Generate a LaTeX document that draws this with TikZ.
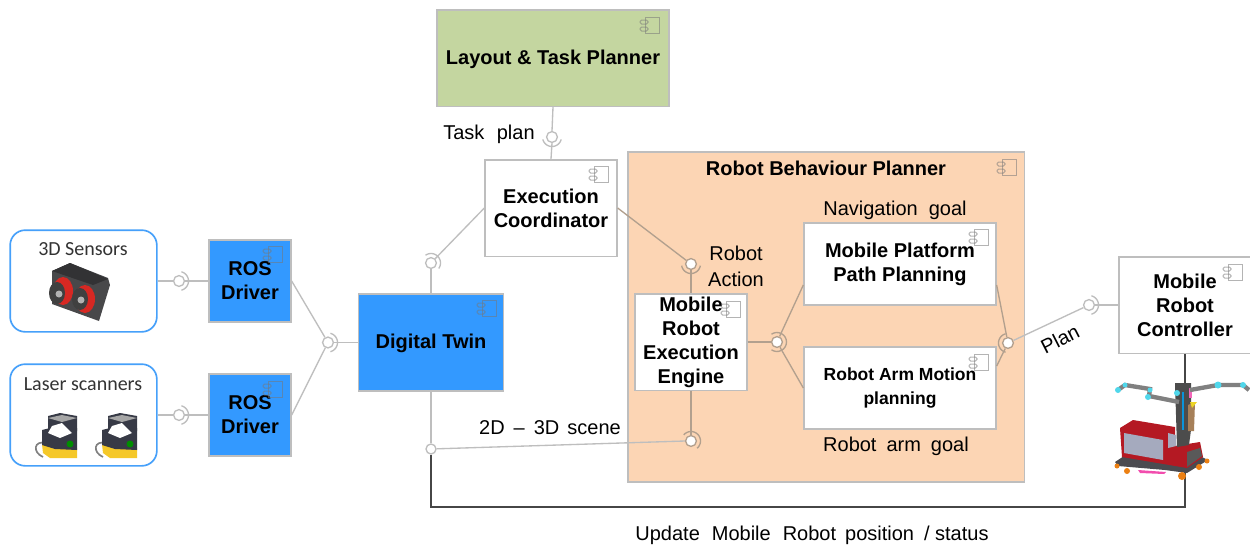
\documentclass[tikz,border=0pt]{standalone}
\usepackage{fontspec}
\setmainfont{Liberation Sans}
\newfontfamily\calib{Carlito}
\definecolor{lineg}{RGB}{190,190,190}
\definecolor{linep}{RGB}{178,160,142}
\definecolor{boxg}{RGB}{190,190,190}
\definecolor{blueb}{RGB}{51,153,255}
\definecolor{greenb}{RGB}{196,214,160}
\definecolor{peach}{RGB}{252,213,180}
\definecolor{roundb}{RGB}{70,160,250}
\definecolor{darkl}{RGB}{70,70,70}
\definecolor{iconc}{RGB}{120,120,120}
\definecolor{camd}{RGB}{72,72,74}
\definecolor{camt}{RGB}{50,50,52}
\definecolor{camr}{RGB}{215,40,35}
\definecolor{lasd}{RGB}{55,58,70}
\definecolor{lasy}{RGB}{245,200,40}
\definecolor{robr}{RGB}{180,25,35}
\definecolor{robg}{RGB}{165,170,190}
\definecolor{robc}{RGB}{80,215,235}
\definecolor{robk}{RGB}{75,75,80}
\tikzset{
  x=0.6pt,y=-0.6pt,
  comp/.style={draw=boxg,line width=1pt,fill=white,align=center,font=\fontsize{12pt}{14.4pt}\selectfont\bfseries,inner sep=0pt,execute at begin node={\rule{0pt}{10.2pt}}},
  bluecomp/.style={comp,fill=blueb},
  lab/.style={font=\fontsize{12pt}{14.4pt}\selectfont,inner sep=0pt},
  wire/.style={draw=lineg,line width=0.8pt},
  wirep/.style={draw=linep,line width=0.8pt},
  sens/.style={draw=roundb,line width=1pt,rounded corners=9pt,fill=white},
  cal/.style={font=\calib\fontsize{12pt}{14pt}\selectfont,inner sep=0pt,text=black!80},
  ball/.style={circle,line width=0.8pt,fill=white,minimum size=6.5pt,inner sep=0pt},
}
\newcommand{\compicon}[2]{%
  \draw[iconc,opacity=0.55,line width=0.6pt] (#1-6,#2-8) rectangle (#1+8,#2+8);
  \draw[iconc,opacity=0.55,line width=0.6pt,rounded corners=1pt] (#1-11,#2-5) rectangle (#1-3,#2-1);
  \draw[iconc,opacity=0.55,line width=0.6pt,rounded corners=1pt] (#1-11,#2+2) rectangle (#1-3,#2+6);
}
% name, x, y, direction of the arc, half span, ball and arc colour
\newcommand{\lolli}[6]{%
  \node[ball,draw=#6] (#1) at (#2,#3) {};
  \draw[#6,line width=0.8pt] plot[smooth,domain={#4-#5}:{#4+#5},samples=17,variable=\t] ({#2+9.5*cos(\t)},{#3-9.5*sin(\t)});
}
\newcommand{\laser}[1]{%
  \begin{scope}[shift={(#1,0)}]
  \draw[gray,line width=1pt] (46,443) .. controls (34,440) and (32,452) .. (43,457);
  \fill[lasy] (42,444) -- (77,448) -- (77,458) -- (50,458) -- (43,453) -- cycle;
  \fill[lasd] (42,430) -- (50,428) -- (77,428) -- (77,450) -- (55,449) -- (42,445) -- cycle;
  \fill[lasd] (48,416) -- (60,413) -- (77,416) -- (77,431) -- (48,431) -- cycle;
  \fill[gray!70] (48,418) -- (62,415) -- (77,418) -- (62,422) -- cycle;
  \fill[white] (52,426) -- (62,423) -- (72,433) -- (60,438) -- (48,433) -- cycle;
  \fill[green!55!black] (70,444) circle[radius=3.5];
  \end{scope}
}
\begin{document}
\begin{tikzpicture}
\useasboundingbox (0,0) rectangle (1250,547);
\fill[white] (0,0) rectangle (1250,547);

% containers
\node[draw=boxg,line width=1pt,fill=peach,minimum width=238pt,minimum height=198pt,inner sep=0pt] (rbp) at (826,317) {};
\node[font=\fontsize{12pt}{14.4pt}\selectfont\bfseries,inner sep=0pt] (rbpt) at (826,168) {Robot Behaviour Planner};

% boxes
\node[comp,fill=greenb,minimum width=139pt,minimum height=58pt] (ltp) at (553,58) {Layout \& Task Planner};
\node[comp,minimum width=79pt,minimum height=58pt] (ec) at (551,208) {Execution\\Coordinator};
\node[bluecomp,minimum width=49pt,minimum height=49pt] (ros1) at (250,281) {ROS\\Driver};
\node[bluecomp,minimum width=49pt,minimum height=49pt] (ros2) at (250,415) {ROS\\Driver};
\node[bluecomp,minimum width=87pt,minimum height=58pt] (dt) at (431,342.5) {Digital Twin};
\node[comp,minimum width=67pt,minimum height=58pt] (eng) at (691,342) {Mobile\\Robot\\Execution\\Engine};
\node[comp,minimum width=115pt,minimum height=49pt] (mp) at (900,264) {Mobile Platform\\Path Planning};
\node[comp,minimum width=115pt,minimum height=49pt,font=\fontsize{10.5pt}{14.4pt}\selectfont\bfseries] (arm) at (900,388) {Robot Arm Motion\\planning};
\node[comp,minimum width=79pt,minimum height=58pt] (mrc) at (1185,305) {Mobile\\Robot\\Controller};
\node[sens,minimum width=88pt,minimum height=61pt,inner sep=0pt] (s3d) at (83.5,281) {};
\node[sens,minimum width=88pt,minimum height=61pt,inner sep=0pt] (slas) at (83.5,415) {};
\node[cal] (t3d) at (83,249) {3D Sensors};
\node[cal] (tlas) at (83,384) {Laser scanners};

% icons
\compicon{651}{25}
\compicon{600}{174}
\compicon{1008}{167}
\compicon{274}{254}
\compicon{274}{389}
\compicon{488}{308}
\compicon{732}{309}
\compicon{980}{237}
\compicon{980}{362}
\compicon{1234}{272}

% sockets
\lolli{k1}{179}{281}{0}{75}{lineg}
\lolli{k2}{179}{415}{0}{75}{lineg}
\lolli{k3}{328}{342.5}{0}{75}{lineg}
\lolli{k4}{431}{263}{45}{80}{lineg}
\lolli{k5}{552}{137}{-90}{75}{lineg}
\lolli{k6}{691}{264}{-90}{80}{linep}
\lolli{k7}{691}{441}{45}{95}{linep}
\lolli{k8}{777}{342}{0}{125}{linep}
\lolli{k9}{1008}{343}{180}{75}{linep}
\lolli{k10}{1089}{305}{0}{75}{lineg}
\node[ball,draw=lineg,minimum size=6pt] (jn) at (431,449) {};
\coordinate (corner1) at (431,507);
\coordinate (corner2) at (1185,507);

% connectors
\draw[wire] (s3d.east) -- (k1.west);
\draw[wire] (k1.east) -- (ros1.west);
\draw[wire] (slas.east) -- (k2.west);
\draw[wire] (k2.east) -- (ros2.west);
\draw[wire] (ros1.east) -- (k3);
\draw[wire] (ros2.east) -- (k3);
\draw[wire] (k3.east) -- (dt.west);
\draw[wire] (dt.north) -- (k4.south);
\draw[wire] (k4) -- (ec.west);
\draw[wire] (ltp.south) -- (k5.north);
\draw[wire] (k5.south) -- (ec.north);
\draw[wirep] (ec.east) -- (k6);
\draw[wirep] (k6.south) -- (eng.north);
\draw[wirep] (eng.south) -- (k7.north);
\draw[wirep] (eng.east) -- (k8.west);
\draw[wirep] (k8) -- ([yshift=-12.6pt]mp.west);
\draw[wirep] (k8) -- (arm.west);
\draw[wirep] ([yshift=-12.6pt]mp.east) -- (k9);
\draw[wirep] ([yshift=13.2pt]arm.east) -- (k9);
\draw[wire] (k9) -- (k10);
\draw[wire] (k10.east) -- (mrc.west);
\draw[wire] (jn) -- (k7.west);
\draw[wire] (dt.south) -- (jn.north);
\draw[draw=darkl,line width=1.2pt] (jn.south) -- (corner1) -- (corner2) -- (mrc.south);

% 3D camera
\fill[camd] (52,271) -- (70,263) -- (108,278) -- (110,285) -- (99,321) -- (52,304) -- cycle;
\fill[camt] (52,271) -- (70,263) -- (108,279) -- (93,285) -- cycle;
\fill[camr] (63,291) ellipse[x radius=10,y radius=14];
\fill[camr] (85,299) ellipse[x radius=10,y radius=14];
\fill[black!75] (57,293) ellipse[x radius=8,y radius=11];
\fill[black!75] (80,299) ellipse[x radius=8,y radius=11];
\fill[gray!60] (59,294) circle[radius=3.5];
\fill[gray!60] (81,300) circle[radius=3.5];

% laser scanners
\laser{0}
\laser{60}

% robot
\fill[robk] (1115,462) -- (1124,456) -- (1200,456) -- (1208,460) -- (1187,473) -- (1165,470) -- (1118,466) -- cycle;
\fill[magenta!70] (1138,470) -- (1166,472) -- (1164,474) -- (1140,473) -- cycle;
\fill[orange!70!brown] (1117,466) circle[radius=2.5] (1127,471) circle[radius=3] (1182,476) circle[radius=4] (1199,467) circle[radius=3] (1207,461) circle[radius=2.5];
\fill[robr] (1120,428) -- (1133,420) -- (1175,427) -- (1175,446) -- (1200,442) -- (1203,457) -- (1187,468) -- (1122,457) -- cycle;
\fill[robg] (1124,433) -- (1163,440) -- (1163,460) -- (1124,453) -- cycle;
\fill[robg] (1168,433) -- (1176,435) -- (1176,446) -- (1168,448) -- cycle;
\fill[black!65] (1187,452) -- (1200,448) -- (1202,456) -- (1187,467) -- cycle;
\fill[black!70] (1175,383) -- (1191,383) -- (1191,430) -- (1189,445) -- (1177,447) -- cycle;
\fill[brown!60!gray] (1188,405) -- (1195,402) -- (1194,431) -- (1188,431) -- cycle;
\fill[yellow!70!brown] (1190,402) -- (1197,402) -- (1192,408) -- cycle;
\fill[cyan!80!blue] (1182,392) rectangle (1184,430);
\fill[magenta!60] (1189,388) rectangle (1192,398);
\draw[gray,line width=2.6pt] (1179,402) -- (1149,396) -- (1150,389) -- (1125,385) -- (1118,390);
\draw[gray,line width=2.6pt] (1190,390) -- (1218,385) -- (1243,385) -- (1249,390);
\fill[robc] (1118,390) circle[radius=3] (1125,385) circle[radius=2.5] (1148,397) circle[radius=3] (1150,390) circle[radius=2.5] (1177,393) circle[radius=3] (1218,385) circle[radius=3.5] (1243,385) circle[radius=3];

% labels
\node[lab] (tp) at (489,134) {Task\hspace{0.62em}plan};
\node[lab,align=center,font=\fontsize{12pt}{15.5pt}\selectfont] (ra) at (736,266) {Robot\\Action};
\node[lab] (ng) at (895,210) {Navigation\hspace{0.55em}goal};
\node[lab] (ag) at (896,446) {Robot\hspace{0.5em}arm\hspace{0.5em}goal};
\node[lab] (sc) at (550,428) {2D\hspace{0.45em}--\hspace{0.45em}3D\hspace{0.4em}scene};
\node[lab,rotate=27] (pl) at (1060,339) {Plan};
\node[lab] (up) at (812,535) {Update\hspace{0.6em}Mobile\hspace{0.6em}Robot\hspace{0.45em}position\hspace{0.5em}/ status};
\end{tikzpicture}
\end{document}
